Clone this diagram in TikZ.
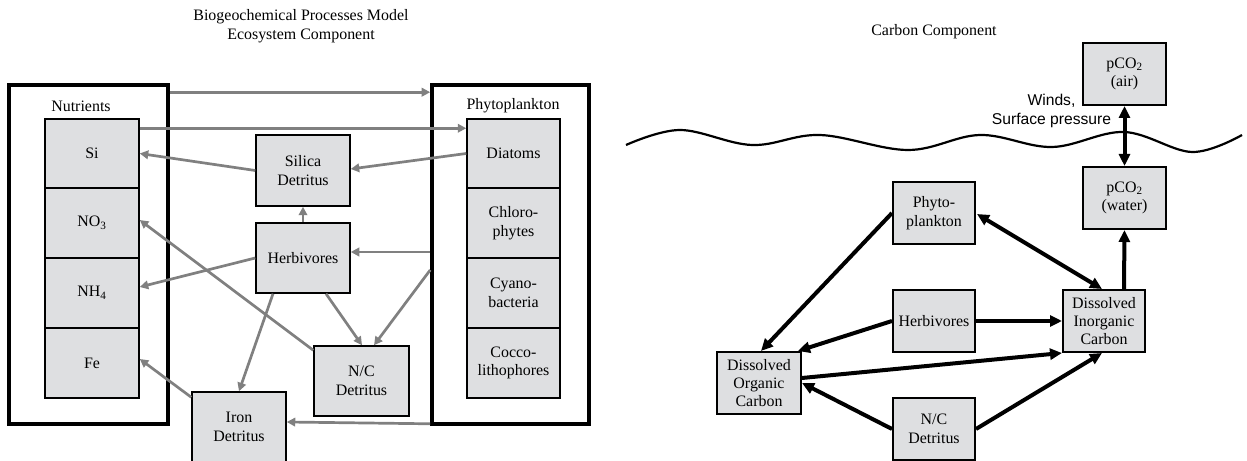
\documentclass[tikz,border=0pt]{standalone}
\usepackage{fontspec}
\setmainfont{Liberation Serif}
\newfontfamily\arialfont{Liberation Sans}
\usetikzlibrary{arrows.meta,calc}
\definecolor{boxfill}{RGB}{222,223,225}
\definecolor{arrgray}{RGB}{128,128,128}
\begin{document}
\begin{tikzpicture}[x=1bp,y=-1bp,
  every node/.style={font=\fontsize{16}{18.5}\selectfont, align=center, inner sep=0pt},
  bx/.style={draw=black, line width=1.5bp, fill=boxfill},
  frame/.style={draw=black, line width=3.6bp},
  garr/.style={draw=arrgray, line width=2.7bp, -{Triangle[length=8.5bp,width=8.5bp]}},
  karr/.style={draw=black, line width=4bp, -{Triangle[length=12bp,width=11bp]}},
  dkarr/.style={draw=black, line width=4bp, {Triangle[length=12bp,width=11bp]}-{Triangle[length=12bp,width=11bp]}},
]
\useasboundingbox (0,0) rectangle (1247,461);

% ---------- left panel ----------
\node (title) at (301,26) {Biogeochemical Processes Model\\Ecosystem Component};

\node[frame, minimum width=159bp, minimum height=339bp] (nut) at (88.5,254.5) {};
\node (nutlab) at (81,106) {Nutrients};
\node[bx, minimum width=94bp, minimum height=69bp] (si)  at (92,153.5) {Si};
\node[bx, minimum width=94bp, minimum height=70bp] (no3) at (92,223) {NO\textsubscript{3}};
\node[bx, minimum width=94bp, minimum height=70bp] (nh4) at (92,293) {NH\textsubscript{4}};
\node[bx, minimum width=94bp, minimum height=70bp] (fe)  at (92,363) {Fe};

\node[frame, minimum width=157bp, minimum height=339bp] (phy) at (510.5,254.5) {};
\node (phylab) at (513,106) {Phytoplankton};
\node[bx, minimum width=93bp, minimum height=69bp] (diat)  at (513.5,153.5) {Diatoms};
\node[bx, minimum width=93bp, minimum height=70bp] (chlo)  at (513.5,223) {Chloro-\\phytes};
\node[bx, minimum width=93bp, minimum height=70bp] (cyan)  at (513.5,293) {Cyano-\\bacteria};
\node[bx, minimum width=93bp, minimum height=70bp] (cocc)  at (513.5,363) {Cocco-\\lithophores};

\node[bx, minimum width=94bp, minimum height=71bp] (sil)  at (303,170.5) {Silica\\Detritus};
\node[bx, minimum width=94bp, minimum height=70bp] (herb) at (303,258) {Herbivores};
\node[bx, minimum width=95bp, minimum height=70bp] (nc)   at (361.5,381) {N/C\\Detritus};
\node[bx, minimum width=94bp, minimum height=70bp] (iron) at (239,427) {Iron\\Detritus};

\draw[garr] ($(nut.north east)+(0,9)$) -- ($(phy.north west)+(0,9)$);
\draw[garr] ($(si.north east)+(0,10)$) -- ($(diat.north west)+(0,10)$);
\draw[garr] (diat.west) -- ($(sil.east)+(0,-1.5)$);
\draw[garr] (sil.west) -- (si.east);
\draw[garr] (herb.north) -- (sil.south);
\draw[garr] ($(phy.west)+(0,-2.5)$) -- ($(herb.east)+(0,-6)$);
\draw[garr] (herb.west) -- ($(nh4.east)+(0,-6)$);
\draw[garr] ($(nc.north west)+(0,5)$) -- ($(no3.east)+(0,-3)$);
\draw[garr] ($(herb.south)+(23,0)$) -- ($(nc.north)+(0.5,0)$);
\draw[garr] ($(phy.west)+(0,15.5)$) -- ($(nc.north)+(12.5,0)$);
\draw[garr] ($(herb.south)+(-30,0)$) -- (iron.north);
\draw[garr] ($(phy.south west)+(0,-2)$) -- ($(iron.east)+(0,-5)$);
\draw[garr] ($(iron.north west)+(0,6)$) -- ($(fe.east)+(0,-4)$);

% ---------- right panel ----------
\node (ctitle) at (934,32) {Carbon Component};

\draw[line width=2.2bp] plot[smooth, tension=0.6] coordinates {(626,145) (680,130) (752,145) (820,135) (908,150) (980,135) (1052,147) (1124,132) (1192,152) (1242,135)};

\node[bx, line width=2bp, minimum width=83bp, minimum height=62bp] (air)   at (1124.5,74) {pCO\textsubscript{2}\\(air)};
\node[bx, line width=2bp, minimum width=83bp, minimum height=62bp] (water) at (1124.5,198) {pCO\textsubscript{2}\\(water)};
\node[bx, line width=2bp, minimum width=82bp, minimum height=62bp] (phyto2) at (934,213) {Phyto-\\plankton};
\node[bx, line width=2bp, minimum width=82bp, minimum height=62bp] (herb2)  at (934,321) {Herbivores};
\node[bx, line width=2bp, minimum width=82bp, minimum height=62bp] (dic)    at (1104,321) {Dissolved\\Inorganic\\Carbon};
\node[bx, line width=2bp, minimum width=84bp, minimum height=62bp] (doc)    at (759,383) {Dissolved\\Organic\\Carbon};
\node[bx, line width=2bp, minimum width=82bp, minimum height=62bp] (nc2)    at (934,429) {N/C\\Detritus};

\node[font=\arialfont\fontsize{15.7}{19}\selectfont] (winds) at (1051.5,111) {Winds,\\Surface pressure};

\draw[dkarr] (air.south) -- (water.north);
\draw[karr] ($(dic.north)+(20,0)$) -- (water.south);
\draw[dkarr] ($(phyto2.east)+(1,1)$) -- ($(dic.north)+(-2,0)$);
\draw[karr] (phyto2.west) -- ($(doc.north)+(2,0)$);
\draw[karr] (herb2.east) -- (dic.west);
\draw[karr] (herb2.west) -- ($(doc.north east)+(-4,0)$);
\draw[karr] ($(doc.east)+(0,-5)$) -- (dic.south west);
\draw[karr] (nc2.west) -- (doc.east);
\draw[karr] (nc2.east) -- ($(dic.south)+(-2,0)$);
\end{tikzpicture}
\end{document}
